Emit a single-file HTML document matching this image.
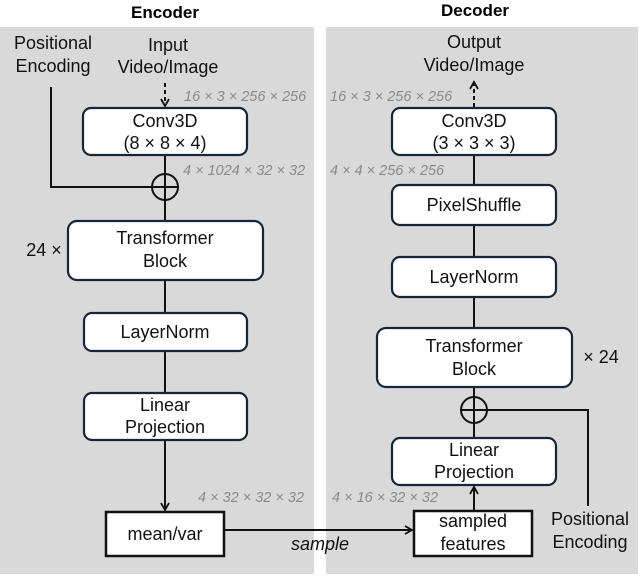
<!DOCTYPE html>
<html><head><style>html,body{margin:0;padding:0;background:#fff}svg{display:block}</style></head><body>
<svg width="640" height="576" viewBox="0 0 640 576" xmlns="http://www.w3.org/2000/svg" font-family="Liberation Sans, sans-serif">
<defs>
<marker id="ah" markerWidth="10" markerHeight="10" refX="8" refY="5" orient="auto" markerUnits="userSpaceOnUse"><path d="M1,1 L8,5 L1,9" fill="none" stroke="#111" stroke-width="1.8"/></marker>
</defs>
<rect x="0" y="27" width="314" height="547" fill="#d9d9d9"/>
<rect x="326" y="27" width="312" height="547" fill="#d9d9d9"/>
<text x="165" y="18" font-size="17" font-weight="bold" text-anchor="middle">Encoder</text>
<text x="475" y="16" font-size="17" font-weight="bold" text-anchor="middle">Decoder</text>
<g font-size="18" fill="#111" text-anchor="middle">
<text x="53" y="49">Positional</text><text x="53" y="72">Encoding</text>
<text x="168" y="51">Input</text><text x="168" y="73">Video/Image</text>
<text x="474" y="48">Output</text><text x="474" y="71">Video/Image</text>
<text x="44" y="256">24 ×</text>
<text x="601" y="363">× 24</text>
<text x="590" y="525">Positional</text><text x="590" y="548">Encoding</text>
</g>
<g font-size="14.5" font-style="italic" fill="#8a8a8a">
<text x="184" y="101">16 × 3 × 256 × 256</text>
<text x="183" y="175">4 × 1024 × 32 × 32</text>
<text x="198" y="502">4 × 32 × 32 × 32</text>
<text x="330" y="101">16 × 3 × 256 × 256</text>
<text x="330" y="175">4 × 4 × 256 × 256</text>
<text x="332" y="502">4 × 16 × 32 × 32</text>
</g>
<g stroke="#111" stroke-width="2" fill="none">
<line x1="165" y1="83" x2="165" y2="106" stroke-dasharray="4,3" marker-end="url(#ah)"/>
<polyline points="51,87 51,187 178,187"/>
<line x1="165" y1="155" x2="165" y2="221"/>
<circle cx="165" cy="187" r="13"/>
<line x1="165" y1="280" x2="165" y2="313"/>
<line x1="165" y1="351" x2="165" y2="393"/>
<line x1="165" y1="440" x2="165" y2="510" marker-end="url(#ah)"/>
<line x1="224" y1="530" x2="412" y2="530" marker-end="url(#ah)"/>
<line x1="474" y1="107" x2="474" y2="82" stroke-dasharray="4,3" marker-end="url(#ah)"/>
<line x1="474" y1="155" x2="474" y2="185"/>
<line x1="474" y1="225" x2="474" y2="257"/>
<line x1="474" y1="297" x2="474" y2="328"/>
<line x1="474" y1="387" x2="474" y2="438"/>
<circle cx="474" cy="410" r="13"/>
<polyline points="461,410 588,410 588,506"/>
<line x1="474" y1="511" x2="474" y2="487" marker-end="url(#ah)"/>
</g>
<g stroke="#16263a" stroke-width="2.2" fill="#fff">
<rect x="83" y="108" width="164" height="47" rx="8"/>
<rect x="68" y="221" width="195" height="59" rx="9"/>
<rect x="84" y="313" width="163" height="38" rx="8"/>
<rect x="84" y="393" width="163" height="47" rx="8"/>
<rect x="392" y="108" width="164" height="47" rx="8"/>
<rect x="392" y="185" width="164" height="40" rx="8"/>
<rect x="392" y="257" width="164" height="40" rx="8"/>
<rect x="377" y="328" width="195" height="59" rx="9"/>
<rect x="392" y="438" width="164" height="47" rx="8"/>
</g>
<g stroke="#111" stroke-width="2.5" fill="#fff">
<rect x="106" y="512" width="118" height="44"/>
<rect x="414" y="511" width="118" height="45"/>
</g>
<g font-size="18" fill="#111" text-anchor="middle">
<text x="165" y="127">Conv3D</text><text x="165" y="149">(8 × 8 × 4)</text>
<text x="165" y="244">Transformer</text><text x="165" y="267">Block</text>
<text x="165" y="338">LayerNorm</text>
<text x="165" y="411">Linear</text><text x="165" y="433">Projection</text>
<text x="165" y="540">mean/var</text>
<text x="474" y="127">Conv3D</text><text x="474" y="149">(3 × 3 × 3)</text>
<text x="474" y="211">PixelShuffle</text>
<text x="474" y="283">LayerNorm</text>
<text x="474" y="352">Transformer</text><text x="474" y="375">Block</text>
<text x="474" y="456">Linear</text><text x="474" y="478">Projection</text>
<text x="473" y="527">sampled</text><text x="473" y="550">features</text>
<text x="320" y="550" font-style="italic">sample</text>
</g>
</svg>
</body></html>
